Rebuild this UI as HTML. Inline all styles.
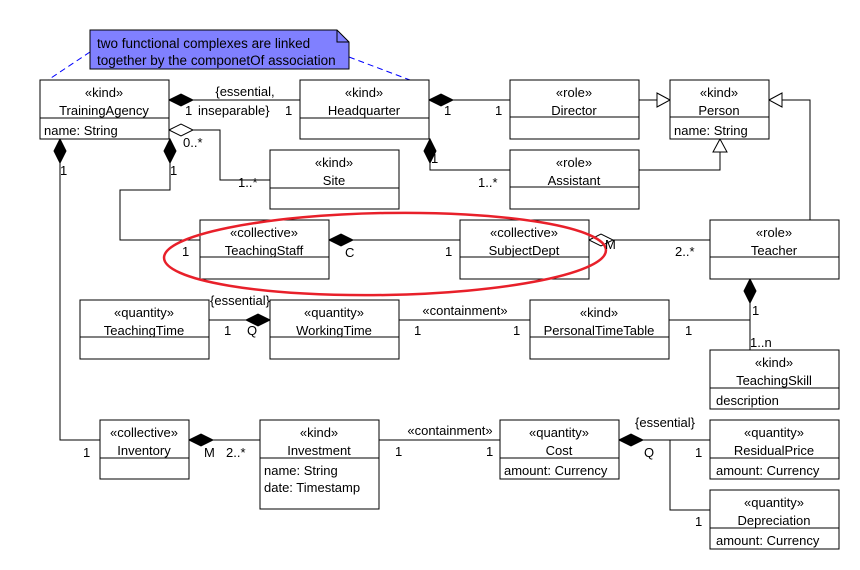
<!DOCTYPE html>
<html><head><meta charset="utf-8"><style>body{margin:0;background:#fff}svg{display:block}</style></head><body>
<svg width="860" height="570" xmlns="http://www.w3.org/2000/svg" font-family="Liberation Sans, sans-serif" font-size="13">
<rect width="860" height="570" fill="#fff"/>
<g fill="none" stroke="#000" stroke-width="1">
<path d="M169 100H300"/>
<path d="M169 130H220V180H270"/>
<path d="M60 139V440H100"/>
<path d="M170 139V190H120V240H200"/>
<path d="M429 100H510"/>
<path d="M430 139V170H510"/>
<path d="M639 100H670"/>
<path d="M639 170H720V139"/>
<path d="M810 220V100H769"/>
<path d="M329 240H460"/>
<path d="M589 240H710"/>
<path d="M750 279V350"/>
<path d="M669 320H750"/>
<path d="M209 320H270"/>
<path d="M399 320H530"/>
<path d="M189 440H260"/>
<path d="M379 440H500"/>
<path d="M619 440H710"/>
<path d="M670 440V510H710"/>
</g>
<g stroke="#00f" stroke-dasharray="6,4" fill="none"><path d="M90 52L48 80"/><path d="M349 57L410 80"/></g>
<g fill="#000" stroke="#000">
<path d="M169 100l12-6 12 6-12 6z"/>
<path d="M60 139l-6 12 6 12 6-12z"/>
<path d="M170 139l-6 12 6 12 6-12z"/>
<path d="M429 100l12-6 12 6-12 6z"/>
<path d="M430 139l-6 12 6 12 6-12z"/>
<path d="M329 240l12-6 12 6-12 6z"/>
<path d="M750 279l-6 12 6 12 6-12z"/>
<path d="M270 320l-12-6-12 6 12 6z"/>
<path d="M189 440l12-6 12 6-12 6z"/>
<path d="M619 440l12-6 12 6-12 6z"/>
</g>
<g fill="#fff" stroke="#000">
<path d="M169 130l12-6 12 6-12 6z"/>
<path d="M589 240l12-6 12 6-12 6z"/>
<path d="M670 100l-13-7v14z"/>
<path d="M720 139l-7 13h14z"/>
<path d="M769 100l13-7v14z"/>
</g>
<path d="M90 30H337L349 42V69H90Z" fill="#8080ff" stroke="#000"/>
<path d="M337 30V42H349" fill="none" stroke="#000"/>
<text x="97" y="48" font-size="13.5">two functional complexes are linked</text>
<text x="97" y="65" font-size="13.5">together by the componetOf association</text>
<g fill="#fff" stroke="#000">
<rect x="40" y="80" width="129" height="59"/><path d="M40 118H169"/>
<rect x="300" y="80" width="129" height="59"/><path d="M300 118H429"/>
<rect x="270" y="150" width="129" height="59"/><path d="M270 188H399"/>
<rect x="510" y="80" width="129" height="59"/><path d="M510 117H639"/>
<rect x="670" y="80" width="99" height="59"/><path d="M670 117H769"/>
<rect x="510" y="150" width="129" height="59"/><path d="M510 187H639"/>
<rect x="200" y="220" width="129" height="59"/><path d="M200 257H329"/>
<rect x="460" y="220" width="129" height="59"/><path d="M460 257H589"/>
<rect x="710" y="220" width="129" height="59"/><path d="M710 257H839"/>
<rect x="80" y="300" width="129" height="59"/><path d="M80 337H209"/>
<rect x="270" y="300" width="129" height="59"/><path d="M270 337H399"/>
<rect x="530" y="300" width="139" height="59"/><path d="M530 337H669"/>
<rect x="710" y="350" width="129" height="59"/><path d="M710 388H839"/>
<rect x="100" y="420" width="89" height="59"/><path d="M100 458H189"/>
<rect x="260" y="420" width="119" height="89"/><path d="M260 458H379"/>
<rect x="500" y="420" width="119" height="59"/><path d="M500 458H619"/>
<rect x="710" y="420" width="129" height="59"/><path d="M710 458H839"/>
<rect x="710" y="490" width="129" height="59"/><path d="M710 528H839"/>
</g>
<ellipse cx="385" cy="254" rx="221" ry="41" fill="none" stroke="#e8202a" stroke-width="2.5" transform="rotate(-1 385 254)"/>
<g text-anchor="middle">
<text x="104" y="97">«kind»</text><text x="104" y="115">TrainingAgency</text>
<text x="364" y="97">«kind»</text><text x="364" y="115">Headquarter</text>
<text x="334" y="167">«kind»</text><text x="334" y="185">Site</text>
<text x="574" y="97">«role»</text><text x="574" y="115">Director</text>
<text x="719" y="97">«kind»</text><text x="719" y="115">Person</text>
<text x="574" y="167">«role»</text><text x="574" y="185">Assistant</text>
<text x="264" y="237">«collective»</text><text x="264" y="255">TeachingStaff</text>
<text x="524" y="237">«collective»</text><text x="524" y="255">SubjectDept</text>
<text x="774" y="237">«role»</text><text x="774" y="255">Teacher</text>
<text x="144" y="317">«quantity»</text><text x="144" y="335">TeachingTime</text>
<text x="334" y="317">«quantity»</text><text x="334" y="335">WorkingTime</text>
<text x="599" y="317">«kind»</text><text x="599" y="335">PersonalTimeTable</text>
<text x="774" y="367">«kind»</text><text x="774" y="385">TeachingSkill</text>
<text x="144" y="437">«collective»</text><text x="144" y="455">Inventory</text>
<text x="319" y="437">«kind»</text><text x="319" y="455">Investment</text>
<text x="559" y="437">«quantity»</text><text x="559" y="455">Cost</text>
<text x="774" y="437">«quantity»</text><text x="774" y="455">ResidualPrice</text>
<text x="774" y="507">«quantity»</text><text x="774" y="525">Depreciation</text>
<text x="245" y="96">{essential,</text>
<text x="240" y="305">{essential}</text>
<text x="465" y="315">«containment»</text>
<text x="450" y="435">«containment»</text>
<text x="665" y="427">{essential}</text>
</g>
<g>
<text x="44" y="135">name: String</text>
<text x="674" y="135">name: String</text>
<text x="716" y="405">description</text>
<text x="264" y="475">name: String</text>
<text x="264" y="492">date: Timestamp</text>
<text x="504" y="475">amount: Currency</text>
<text x="716" y="475">amount: Currency</text>
<text x="716" y="545">amount: Currency</text>
<text x="185" y="115">1</text><text x="198" y="115">inseparable}</text><text x="285" y="115">1</text>
<text x="183" y="147">0..*</text><text x="238" y="187">1..*</text>
<text x="60" y="175">1</text><text x="170" y="175">1</text>
<text x="83" y="457">1</text>
<text x="444" y="115">1</text><text x="495" y="115">1</text>
<text x="431" y="163">1</text><text x="478" y="187">1..*</text>
<text x="182" y="256">1</text><text x="345" y="257">C</text><text x="445" y="256">1</text>
<text x="605" y="249">M</text><text x="675" y="256">2..*</text>
<text x="752" y="315">1</text><text x="750" y="347">1..n</text><text x="685" y="335">1</text>
<text x="224" y="335">1</text><text x="247" y="335">Q</text>
<text x="414" y="335">1</text><text x="513" y="335">1</text>
<text x="204" y="457">M</text><text x="226" y="457">2..*</text>
<text x="395" y="456">1</text><text x="486" y="456">1</text>
<text x="644" y="457">Q</text><text x="695" y="457">1</text><text x="695" y="526">1</text>
</g>
</svg>
</body></html>
